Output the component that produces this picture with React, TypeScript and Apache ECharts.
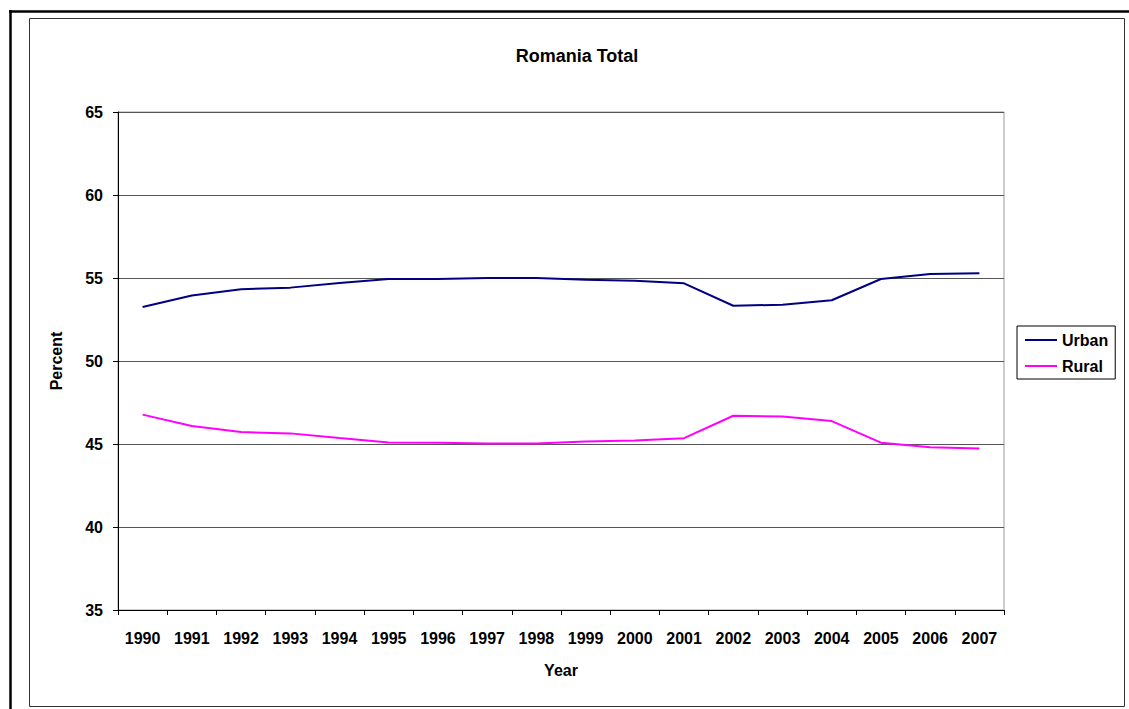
import React, { useEffect, useRef } from "react";
import * as echarts from "echarts";

const years = ["1990","1991","1992","1993","1994","1995","1996","1997","1998","1999","2000","2001","2002","2003","2004","2005","2006","2007"];
const urban = [53.25, 53.95, 54.32, 54.42, 54.7, 54.94, 54.94, 55.0, 55.0, 54.9, 54.84, 54.68, 53.33, 53.39, 53.66, 54.94, 55.24, 55.28];
const rural = [46.77, 46.08, 45.72, 45.64, 45.36, 45.09, 45.08, 45.03, 45.03, 45.15, 45.21, 45.35, 46.7, 46.66, 46.38, 45.08, 44.8, 44.73];
const yTicks = { min: 35, max: 65, interval: 5 };

const FONT = "'Liberation Sans', Arial, sans-serif";

export default function App() {
  const ref = useRef<HTMLDivElement>(null);
  useEffect(() => {
    if (!ref.current) return;
    const chart = echarts.init(ref.current, null, { renderer: "svg" });
    chart.setOption({
      animation: false,
      backgroundColor: "#ffffff",
      textStyle: { fontFamily: FONT },
      title: {
        text: "Romania Total",
        left: 572,
        top: 42,
        textAlign: "center",
        textStyle: { fontFamily: FONT, fontSize: 18, fontWeight: "bold", color: "#000" },
      },
      legend: {
        orient: "vertical",
        left: 1017,
        top: 326,
        padding: [6, 7, 5, 8],
        itemGap: 10,
        itemWidth: 32,
        itemHeight: 2,
        icon: "rect",
        borderColor: "#000",
        borderWidth: 1,
        backgroundColor: "#fff",
        borderRadius: 0,
        textStyle: { fontFamily: FONT, fontSize: 16, fontWeight: "bold", color: "#000", lineHeight: 16 },
        data: ["Urban", "Rural"],
      },
      grid: {
        left: 118,
        top: 112,
        width: 886,
        height: 498,
        show: true,
        borderColor: "#9a9a9a",
        borderWidth: 1,
        backgroundColor: "transparent",
        containLabel: false,
      },
      xAxis: {
        type: "category",
        data: years,
        boundaryGap: true,
        name: "Year",
        nameLocation: "middle",
        nameGap: 52,
        nameTextStyle: { fontFamily: FONT, fontSize: 16, fontWeight: "bold", color: "#000" },
        axisLine: { show: true, lineStyle: { color: "#000", width: 1 } },
        axisTick: { show: true, length: 5, inside: false, lineStyle: { color: "#000" } },
        axisLabel: { interval: 0, margin: 20, fontFamily: FONT, fontSize: 16, fontWeight: "bold", color: "#000" },
        splitLine: { show: false },
      },
      yAxis: {
        type: "value",
        min: yTicks.min,
        max: yTicks.max,
        interval: yTicks.interval,
        name: "Percent",
        nameLocation: "middle",
        nameGap: 54,
        nameTextStyle: { fontFamily: FONT, fontSize: 16, fontWeight: "bold", color: "#000" },
        axisLine: { show: true, lineStyle: { color: "#000", width: 1 } },
        axisTick: { show: true, length: 5, inside: false, lineStyle: { color: "#000" } },
        axisLabel: { margin: 15, fontFamily: FONT, fontSize: 16, fontWeight: "bold", color: "#000" },
        splitLine: { show: true, lineStyle: { color: "#555", width: 1 } },
      },
      graphic: [
        {
          type: "rect",
          shape: { x: 29.5, y: 18.5, width: 1095, height: 688 },
          style: { fill: "none", stroke: "#333", lineWidth: 1 },
          silent: true,
          z: 0,
        },
        {
          type: "line",
          shape: { x1: 9, y1: 11.5, x2: 1129, y2: 11.5 },
          style: { stroke: "#000", lineWidth: 2.5 },
          silent: true,
        },
        {
          type: "line",
          shape: { x1: 10.5, y1: 10, x2: 10.5, y2: 709 },
          style: { stroke: "#000", lineWidth: 2.5 },
          silent: true,
        },
      ],
      series: [
        {
          name: "Urban",
          type: "line",
          data: urban,
          symbol: "none",
          lineStyle: { color: "#000080", width: 2 },
          itemStyle: { color: "#000080" },
        },
        {
          name: "Rural",
          type: "line",
          data: rural,
          symbol: "none",
          lineStyle: { color: "#ff00ff", width: 2 },
          itemStyle: { color: "#ff00ff" },
        },
      ],
    });
    return () => chart.dispose();
  }, []);
  return (
    <div
      ref={ref}
      style={{ position: "absolute", left: 0, top: 0, width: 1129, height: 709 }}
    />
  );
}
